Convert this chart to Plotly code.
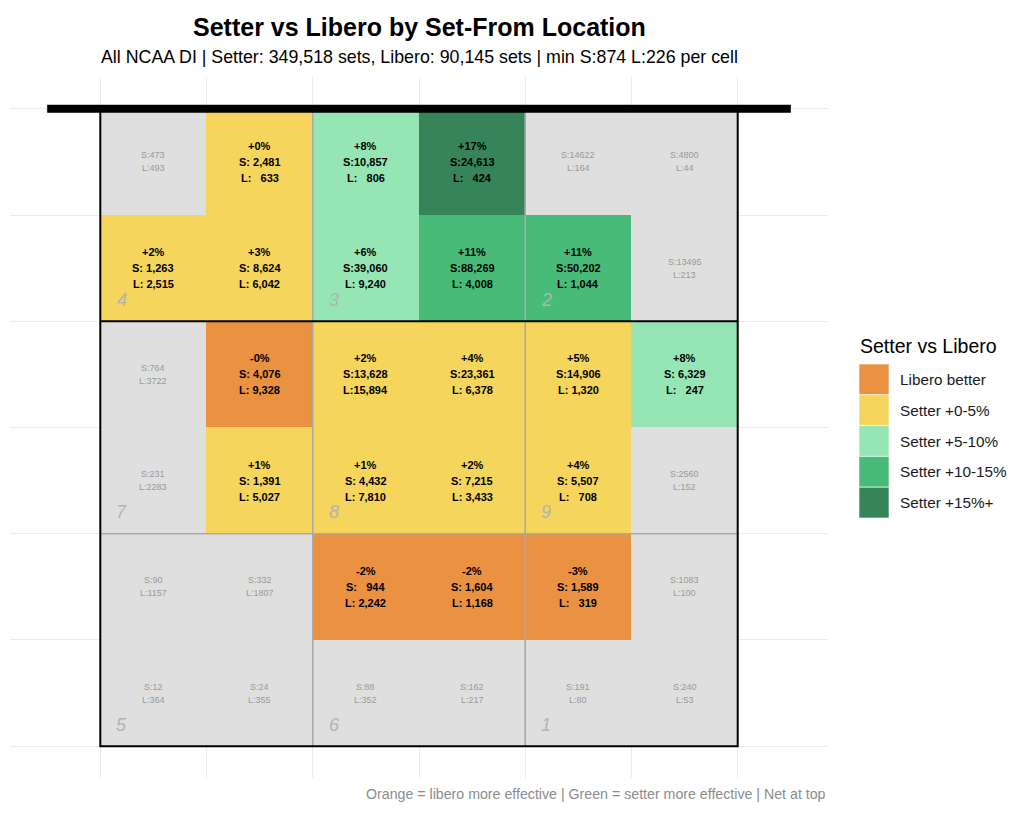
import plotly.graph_objects as go

# ---------------- data ----------------
# grid rows listed from net (top) to back row (bottom); columns left -> right
setter_sets = [
    [473, 2481, 10857, 24613, 14622, 4800],
    [1263, 8624, 39060, 88269, 50202, 13495],
    [764, 4076, 13628, 23361, 14906, 6329],
    [231, 1391, 4432, 7215, 5507, 2560],
    [90, 332, 944, 1604, 1589, 1083],
    [12, 24, 88, 162, 191, 240],
]
libero_sets = [
    [493, 633, 806, 424, 164, 44],
    [2515, 6042, 9240, 4008, 1044, 213],
    [3722, 9328, 15894, 6378, 1320, 247],
    [2283, 5027, 7810, 3433, 708, 152],
    [1157, 1807, 2242, 1168, 319, 100],
    [364, 355, 352, 217, 80, 53],
]
# setter minus libero effectiveness (percentage points), None = below minimum
diff_pct = [
    [None, 0.2, 8, 17, None, None],
    [2, 3, 6, 11, 11, None],
    [None, -0.2, 2, 4, 5, 8],
    [None, 1, 1, 2, 4, None],
    [None, None, -2, -2, -3, None],
    [None, None, None, None, None, None],
]
# colour band per cell: 0 = not enough data, 1..5 = legend bands
band = [
    [0, 2, 3, 5, 0, 0],
    [2, 2, 3, 4, 4, 0],
    [0, 1, 2, 2, 2, 3],
    [0, 2, 2, 2, 2, 0],
    [0, 0, 1, 1, 1, 0],
    [0, 0, 0, 0, 0, 0],
]
band_labels = ["Libero better", "Setter +0-5%", "Setter +5-10%", "Setter +10-15%", "Setter +15%+"]
band_colors = ["#DFDFDF", "#EA9142", "#F5D55B", "#96E6B5", "#48BB78", "#38845A"]
zone_numbers = [[4, 3, 2], [7, 8, 9], [5, 6, 1]]

TITLE = "Setter vs Libero by Set-From Location"
SUBTITLE = "All NCAA DI | Setter: 349,518 sets, Libero: 90,145 sets | min S:874 L:226 per cell"
CAPTION = "Orange = libero more effective | Green = setter more effective | Net at top"
FONT = "Liberation Sans, Arial, sans-serif"

n_rows = len(setter_sets)
n_cols = len(setter_sets[0])

# ---------------- figure ----------------
fig = go.Figure()

nb = len(band_colors)
cscale = []
for i, c in enumerate(band_colors):
    cscale.append([i / nb, c])
    cscale.append([(i + 1) / nb, c])

xc = [c + 0.5 for c in range(n_cols)]
yc = [n_rows - r - 0.5 for r in range(n_rows)]
fig.add_trace(go.Heatmap(
    x=xc, y=yc, z=band, zmin=-0.5, zmax=nb - 0.5,
    colorscale=cscale, showscale=False, hoverinfo="skip", xgap=0, ygap=0,
))

annotations = []
NB = "\u00a0"
for r in range(n_rows):
    for c in range(n_cols):
        x = xc[c]
        y = yc[r]
        s = setter_sets[r][c]
        l = libero_sets[r][c]
        p = diff_pct[r][c]
        if band[r][c] > 0:
            lines = [
                f"{p:+.0f}%",
                "S:" + f"{s:,}".rjust(6).replace(" ", NB),
                "L:" + f"{l:,}".rjust(6).replace(" ", NB),
            ]
            for k, t in enumerate(lines):
                annotations.append(dict(
                    x=x, y=y, xref="x", yref="y", text=f"<b>{t}</b>", showarrow=False,
                    yshift=16 - 16 * k, font=dict(family=FONT, size=11, color="black"),
                ))
        else:
            for k, t in enumerate([f"S:{s}", f"L:{l}"]):
                annotations.append(dict(
                    x=x, y=y, xref="x", yref="y", text=t, showarrow=False,
                    yshift=6.5 - 13 * k, font=dict(family=FONT, size=9, color="#999999"),
                ))

# zone numbers
for zr, zrow in enumerate(zone_numbers):
    for zc, zn in enumerate(zrow):
        x0 = 2 * zc
        y0 = n_rows - 2 * (zr + 1)
        annotations.append(dict(
            x=x0 + 0.2, y=y0 + 0.2, xref="x", yref="y", text=f"<i>{zn}</i>",
            showarrow=False, font=dict(family=FONT, size=18, color="#B3B3B3"),
        ))

shapes = []
GRAY = "#AAAAAA"
for xv in (2, 4):
    shapes.append(dict(type="line", xref="x", yref="y", x0=xv, x1=xv, y0=0, y1=n_rows,
                       line=dict(color=GRAY, width=1.6)))
shapes.append(dict(type="line", xref="x", yref="y", x0=0, x1=n_cols, y0=2, y1=2,
                   line=dict(color=GRAY, width=1.6)))
shapes.append(dict(type="line", xref="x", yref="y", x0=0, x1=n_cols, y0=4, y1=4,
                   line=dict(color="black", width=2)))
shapes.append(dict(type="rect", xref="x", yref="y", x0=0, x1=n_cols, y0=0, y1=n_rows,
                   line=dict(color="black", width=2), fillcolor="rgba(0,0,0,0)"))
shapes.append(dict(type="line", xref="x", yref="y", x0=-0.5, x1=n_cols + 0.5, y0=n_rows, y1=n_rows,
                   line=dict(color="black", width=8)))

# ---------------- layout geometry ----------------
OFF = 8  # page body margin
W, H = 1024 - OFF, 818 - OFF
PL, PR, PT, PB = 10 - OFF, 828 - OFF, 77 - OFF, 778 - OFF  # plot panel in figure pixels


def px(xp):
    return (xp - OFF - PL) / (PR - PL)


def py(yp):
    return (PB - (yp - OFF)) / (PB - PT)


key_x0, key_x1 = 859, 889
key_top, key_h = 364, 30.8
annotations.append(dict(x=px(key_x0 - 1), y=py(346), xref="paper", yref="paper", text="Setter vs Libero",
                        showarrow=False, xanchor="left", yanchor="middle",
                        font=dict(family=FONT, size=19.5, color="black")))
for i, lab in enumerate(band_labels):
    t = key_top + i * key_h
    shapes.append(dict(type="rect", xref="paper", yref="paper", x0=px(key_x0), x1=px(key_x1),
                       y0=py(t + key_h), y1=py(t), fillcolor=band_colors[i + 1],
                       line=dict(color="white", width=0.6)))
    annotations.append(dict(x=px(key_x1 + 9), y=py(t + key_h / 2), xref="paper", yref="paper",
                            text=lab, showarrow=False, xanchor="left", yanchor="middle",
                            font=dict(family=FONT, size=15.3, color="#1A1A1A")))

annotations.append(dict(x=0.5, y=py(27), xref="paper", yref="paper", text=f"<b>{TITLE}</b>",
                        showarrow=False, xanchor="center", yanchor="middle",
                        font=dict(family=FONT, size=25, color="black")))
annotations.append(dict(x=0.5, y=py(57), xref="paper", yref="paper", text=SUBTITLE,
                        showarrow=False, xanchor="center", yanchor="middle",
                        font=dict(family=FONT, size=17.8, color="black")))
annotations.append(dict(x=1.0, y=py(794), xref="paper", yref="paper", text=CAPTION,
                        showarrow=False, xanchor="right", yanchor="middle",
                        font=dict(family=FONT, size=14.2, color="#8C8C8C")))

ticks = list(range(0, n_cols + 1))
fig.update_layout(
    width=W, height=H,
    margin=dict(l=PL, r=W - PR, t=PT, b=H - PB, pad=0),
    plot_bgcolor="white", paper_bgcolor="white",
    showlegend=False,
    shapes=shapes, annotations=annotations,
    xaxis=dict(range=[-0.85, n_cols + 0.85], tickvals=ticks, showticklabels=False,
               showgrid=True, gridcolor="#EBEBEB", gridwidth=1, zeroline=False,
               showline=False, ticks="", fixedrange=True),
    yaxis=dict(range=[-0.3, n_rows + 0.3], tickvals=ticks, showticklabels=False,
               showgrid=True, gridcolor="#EBEBEB", gridwidth=1, zeroline=False,
               showline=False, ticks="", fixedrange=True),
)

fig.write_html("out.html")
